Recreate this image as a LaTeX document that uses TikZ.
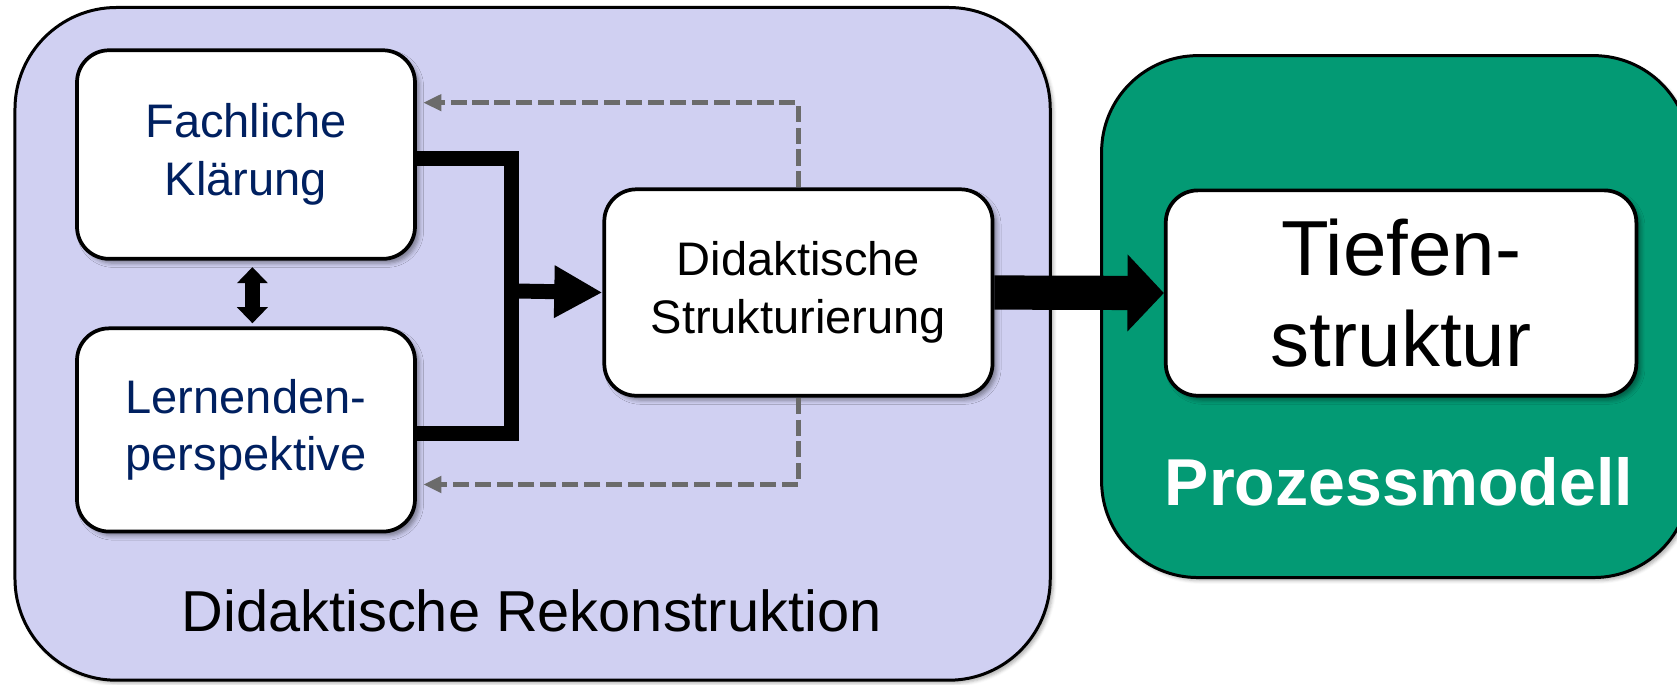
\documentclass[tikz,border=0pt]{standalone}
\usepackage{fontspec}
\setmainfont{Liberation Sans}
\usetikzlibrary{arrows.meta,shadows.blur,calc}
\definecolor{lav}{RGB}{208,208,242}
\definecolor{grn}{RGB}{3,154,116}
\definecolor{navy}{RGB}{0,32,96}
\definecolor{dgray}{RGB}{107,107,107}
\begin{document}
\begin{tikzpicture}[x=1pt,y=-1pt,
  panel/.style={draw=black,line width=2.8pt,inner sep=0pt,
    blur shadow={shadow xshift=3pt,shadow yshift=-3pt,shadow blur radius=3pt,shadow opacity=30}},
  box/.style={draw=black,line width=3.5pt,fill=white,rounded corners=30pt,align=center,inner sep=0pt,
    blur shadow={shadow xshift=4pt,shadow yshift=-4pt,shadow blur radius=4pt,shadow opacity=40}},
  smalltext/.style={font=\fontsize{44}{54}\selectfont},
  thickline/.style={line width=14pt},
  fatarrow/.style={line width=14pt,-{Triangle[length=45pt,width=46pt]}},
  bigarrow/.style={line width=32pt,-{Triangle[length=34pt,width=70pt]}},
  dblarrow/.style={line width=14pt,{Triangle[length=15pt,width=28pt]}-{Triangle[length=15pt,width=28pt]}},
  fb/.style={draw=dgray,line width=4.7pt,dash pattern=on 15pt off 5.5pt,-{Triangle[length=17pt,width=15pt]},shorten >=6pt}
]
\useasboundingbox (0,0) rectangle (1568,640);

% panels
\node[panel,fill=lav,rounded corners=95pt,minimum width=968pt,minimum height=629pt] (R) at (498,321.5) {};
\node[panel,fill=grn,rounded corners=90pt,minimum width=550pt,minimum height=488pt] (P) at (1305,296) {};

% boxes
\node[box,smalltext,text=navy,minimum width=316pt,minimum height=195pt] (F) at (230,144.5) {Fachliche\\Klärung};
\node[box,smalltext,text=navy,minimum width=316pt,minimum height=190pt] (L) at (230,402) {Lernenden-\\perspektive};
\node[box,smalltext,minimum width=363pt,minimum height=193pt] (D) at (746.5,273.5) {Didaktische\\Strukturierung};
\node[box,font=\fontsize{73}{85}\selectfont,minimum width=440pt,minimum height=192pt] (T) at (1310,274) {Tiefen-\\struktur};

% labels
\node[font=\fontsize{54}{60}\selectfont,anchor=base] (RL) at (497,590) {Didaktische Rekonstruktion};
\node[font=\fontsize{62}{70}\selectfont\bfseries,text=white,anchor=base] (PL) at (1308,473) {Prozessmodell};

% connectors
\coordinate (J) at (478,272);
\draw[thickline] ([yshift=-4pt]F.east) -| (J) |- ([yshift=-3pt]L.east);
\draw[fatarrow] (J) -- (D.west);
\draw[bigarrow] (D.east) -- (T.west);
\draw[dblarrow,shorten <=6pt,shorten >=3pt] ([xshift=6pt]F.south) -- ([xshift=6pt]L.north);
\draw[fb] (D.north) |- ([yshift=48.5pt]F.east);
\draw[fb] (D.south) |- ([yshift=-51pt]L.east);
\end{tikzpicture}
\end{document}
